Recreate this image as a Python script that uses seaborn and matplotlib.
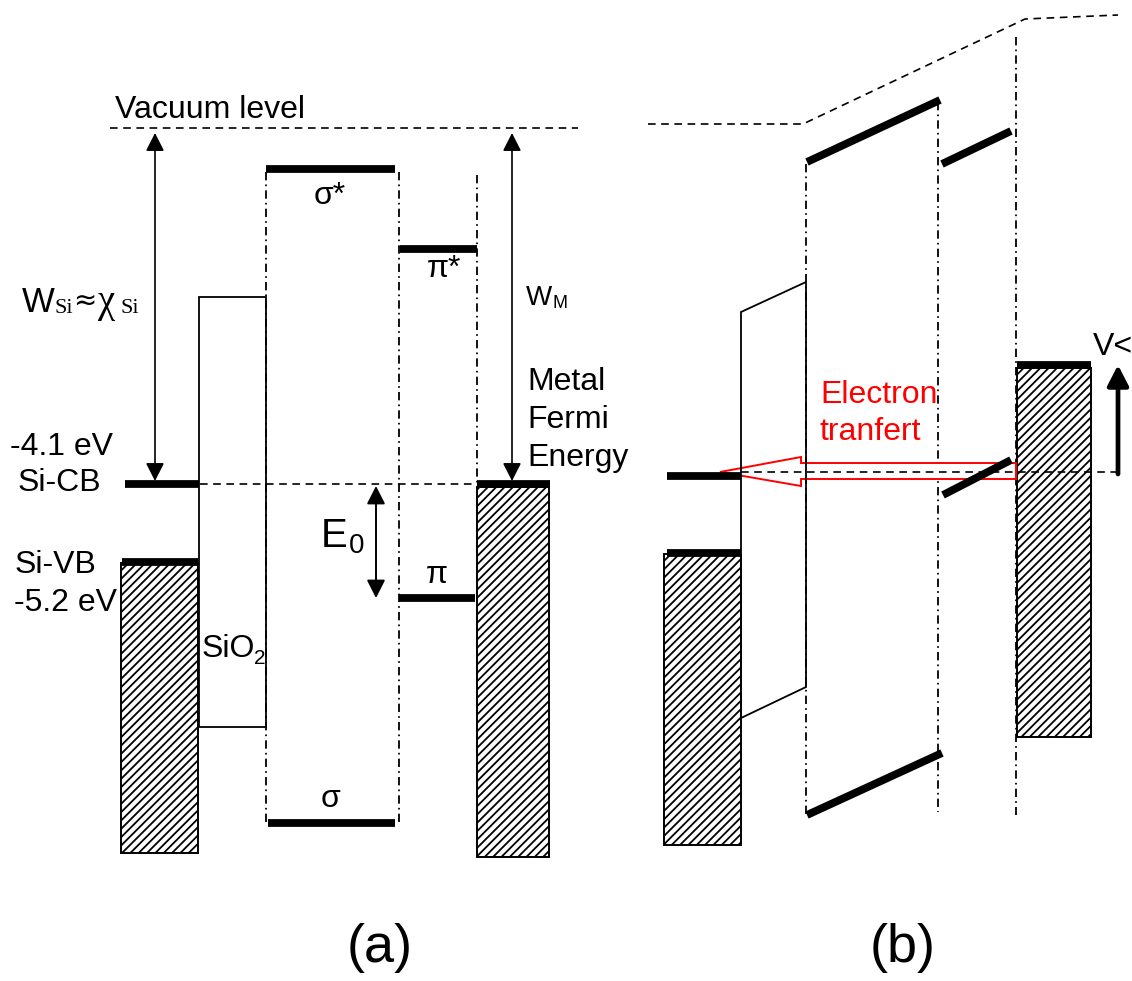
import matplotlib
matplotlib.use("Agg")
import matplotlib.pyplot as plt
from matplotlib.patches import Rectangle, Polygon
import seaborn as sns

sns.set_theme(style="white")
plt.rcParams["font.family"] = ["Liberation Sans", "DejaVu Sans"]
plt.rcParams["hatch.linewidth"] = 1.3
plt.rcParams["hatch.color"] = "black"
plt.rcParams["lines.scale_dashes"] = False

# Drawing units are pixels, y grows downward (energy decreases downward).

# ---------------- panel (a): levels before contact ----------------
a_vacuum_x = [110, 578]
a_vacuum_y = [128, 128]
a_fermi_x = [200, 477]
a_fermi_y = [484, 484]

a_si_cb_x = [125, 199]
a_si_cb_y = [484, 484]
a_si_vb_x = [122, 198]
a_si_vb_y = [562, 562]
a_si_band_x = [121, 198]
a_si_band_y = [563, 853]

a_oxide_x = [199, 266]
a_oxide_y = [297, 727]

a_sigma_star_x = [266, 395]
a_sigma_star_y = [169, 169]
a_sigma_x = [268, 395]
a_sigma_y = [823, 823]
a_pi_star_x = [400, 477]
a_pi_star_y = [249, 249]
a_pi_x = [399, 475]
a_pi_y = [598, 598]

a_guides_x = [266, 399, 477]
a_guides_top = [172, 172, 175]
a_guides_bottom = [822, 822, 484]

a_metal_x = [477, 550]
a_metal_y = [484, 484]
a_metal_band_x = [477, 549]
a_metal_band_y = [487, 857]

a_wsi_arrow = [155, 133, 481]
a_wm_arrow = [512, 133, 481]
a_e0_arrow = [376, 486, 598]

# ---------------- panel (b): levels under bias ----------------
b_vacuum_x = [648, 803, 1025, 1118]
b_vacuum_y = [124, 124, 19, 15]
b_fermi_x = [741, 1122]
b_fermi_y = [472, 472]

b_si_cb_x = [667, 741]
b_si_cb_y = [476, 476]
b_si_vb_x = [667, 741]
b_si_vb_y = [553, 553]
b_si_band_x = [664, 741]
b_si_band_y = [554, 845]

b_oxide_x = [741, 806, 806, 741]
b_oxide_y = [312, 282, 687, 718]

b_sigma_star_x = [807, 940]
b_sigma_star_y = [162, 100]
b_sigma_x = [807, 942]
b_sigma_y = [815, 753]
b_pi_star_x = [942, 1011]
b_pi_star_y = [164, 131]
b_pi_x = [943, 1011]
b_pi_y = [495, 460]

b_guides_x = [806, 938, 1016]
b_guides_top = [164, 102, 37]
b_guides_bottom = [817, 812, 815]

b_metal_x = [1017, 1091]
b_metal_y = [365, 365]
b_metal_band_x = [1017, 1091]
b_metal_band_y = [368, 737]

b_bias_arrow = [1118, 474, 365]

# hollow transfer arrow outline (tail -> tip)
b_transfer_x = [1016, 801, 801, 720, 801, 801, 1016]
b_transfer_y = [463, 463, 457, 472, 486, 479, 479]

DASH = (0, (5.5, 4.0))
DASHDOT = (0, (6, 3, 1.2, 3))

fig = plt.figure(figsize=(11.32, 9.81), dpi=100)
ax = fig.add_axes([0, 0, 1, 1])


def level(x, y, lw=5.6):
    ax.plot(x, y, color="black", lw=lw, solid_capstyle="butt", zorder=4)


def dashed(x, y, z=3):
    ax.plot(x, y, color="black", lw=1.2, linestyle=DASH, zorder=z)


def guides(xs, tops, bottoms):
    for x, t, b in zip(xs, tops, bottoms):
        ax.plot([x, x], [t, b], color="black", lw=1.3, linestyle=DASHDOT, zorder=2)


def band(xr, yr):
    ax.add_patch(Rectangle((xr[0], yr[0]), xr[1] - xr[0], yr[1] - yr[0],
                           facecolor="white", edgecolor="black", lw=1.4,
                           hatch="////", zorder=1))


def double_arrow(spec, lw=1.2):
    x, top, bottom = spec
    ax.annotate("", xy=(x, bottom), xytext=(x, top),
                arrowprops=dict(arrowstyle="<|-|>,head_length=0.55,head_width=0.28",
                                mutation_scale=20, lw=lw, color="black",
                                shrinkA=0, shrinkB=0), zorder=5)


def txt(x, y, s, size=23, **kw):
    kw.setdefault("ha", "left")
    kw.setdefault("va", "baseline")
    kw.setdefault("color", "black")
    ax.text(x, y, s, fontsize=size, **kw)


# ---------- panel (a) ----------
dashed(a_vacuum_x, a_vacuum_y)
dashed(a_fermi_x, a_fermi_y)
guides(a_guides_x, a_guides_top, a_guides_bottom)
band(a_si_band_x, a_si_band_y)
band(a_metal_band_x, a_metal_band_y)
ax.add_patch(Rectangle((a_oxide_x[0], a_oxide_y[0]), a_oxide_x[1] - a_oxide_x[0],
                       a_oxide_y[1] - a_oxide_y[0], fill=False,
                       edgecolor="black", lw=1.3, zorder=3))
for xs, ys in [(a_si_cb_x, a_si_cb_y), (a_si_vb_x, a_si_vb_y),
               (a_sigma_star_x, a_sigma_star_y), (a_sigma_x, a_sigma_y),
               (a_pi_star_x, a_pi_star_y), (a_pi_x, a_pi_y),
               (a_metal_x, a_metal_y)]:
    level(xs, ys)
double_arrow(a_wsi_arrow)
double_arrow(a_wm_arrow)
double_arrow(a_e0_arrow, lw=1.4)

txt(115, 118, "Vacuum level")
txt(22, 312, "W", size=25)
txt(55, 313, "Si", size=16, family="Liberation Serif")
txt(85, 301, "≈", size=20, ha="center", va="center", family="DejaVu Sans")
txt(97, 312, "χ", size=28, family="Liberation Serif")
txt(120, 313, "Si", size=16, family="Liberation Serif")
txt(10, 455, "-4.1 eV")
txt(18, 491, "Si-CB")
txt(15, 573, "Si-VB")
txt(14, 611, "-5.2 eV")
txt(202, 657, "SiO")
txt(254, 664, "2", size=15)
txt(330, 204, "σ*", ha="center")
txt(330, 807, "σ", ha="center")
txt(444, 277, "π*", ha="center")
txt(437, 583, "π", ha="center")
txt(321, 547, "E", size=29)
txt(349, 553, "0", size=20)
txt(526, 305, "W", size=20)
txt(553, 308, "M", size=13)
txt(527, 390, "Metal")
txt(527, 428, "Fermi")
txt(527, 466, "Energy")
txt(380, 948, "(a)", size=39, ha="center", va="center")

# ---------- panel (b) ----------
sns.lineplot(x=b_vacuum_x, y=b_vacuum_y, sort=False, estimator=None,
             color="black", lw=1.2, linestyle=DASH, ax=ax, zorder=3)
guides(b_guides_x, b_guides_top, b_guides_bottom)
band(b_si_band_x, b_si_band_y)
band(b_metal_band_x, b_metal_band_y)
ax.add_patch(Polygon(list(zip(b_oxide_x, b_oxide_y)), closed=True, fill=False,
                     edgecolor="black", lw=1.3, zorder=3))
ax.add_patch(Polygon(list(zip(b_transfer_x, b_transfer_y)), closed=True,
                     facecolor="white", edgecolor="#ff0000", lw=1.4, zorder=2.5))
dashed(b_fermi_x, b_fermi_y, z=3.5)
for xs, ys in [(b_si_cb_x, b_si_cb_y), (b_si_vb_x, b_si_vb_y),
               (b_sigma_star_x, b_sigma_star_y), (b_sigma_x, b_sigma_y),
               (b_pi_star_x, b_pi_star_y), (b_pi_x, b_pi_y),
               (b_metal_x, b_metal_y)]:
    level(xs, ys)
x, tail, tip = b_bias_arrow
ax.annotate("", xy=(x, tip), xytext=(x, tail),
            arrowprops=dict(arrowstyle="-|>,head_length=0.62,head_width=0.32",
                            mutation_scale=20, lw=3.4, color="black",
                            shrinkA=0, shrinkB=0), zorder=5)

txt(820, 403, "Electron", color="#ff0000")
txt(820, 440, "tranfert", color="#ff0000")
txt(1093, 355, "V<")
txt(903, 948, "(b)", size=39, ha="center", va="center")

ax.set_xlim(0, 1132)
ax.set_ylim(981, 0)
ax.axis("off")
if ax.get_legend() is not None:
    ax.get_legend().remove()

fig.savefig("out.png", dpi=100, facecolor="white")
